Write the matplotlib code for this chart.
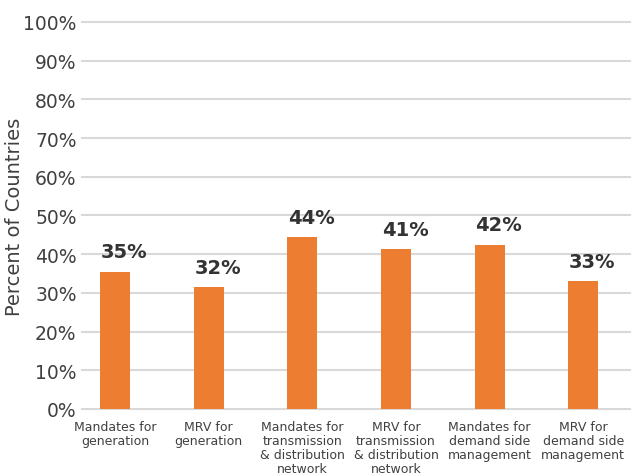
import matplotlib.pyplot as plt
import numpy as np

categorias = ["Mandates for\ngeneration",
              "MRV for\ngeneration",
              "Mandates for\ntransmission\n& distribution\nnetwork",
              "MRV for\ntransmission\n& distribution\nnetwork",
              "Mandates for\ndemand side\nmanagement",
              "MRV for\ndemand side\nmanagement"]
valores = [35.4, 31.5, 44.4, 41.3, 42.4, 33.0]
rotulos = ["35%", "32%", "44%", "41%", "42%", "33%"]
yticks = [0, 10, 20, 30, 40, 50, 60, 70, 80, 90, 100]

laranja = '#ED7D31'
cinza = '#404040'

fig = plt.figure(figsize=(6.32, 4.77), dpi=100)
ax = fig.add_axes([0.13, 0.1405, 0.867, 0.8115])

x = np.arange(len(categorias))
ax.bar(x, valores, width=0.32, color=laranja, zorder=3)

for xi, v, r in zip(x, valores, rotulos):
    ax.annotate(r, (xi, v), xytext=(9, 20), textcoords='offset pixels',
                ha='center', va='center', fontsize=14, fontweight='bold',
                color='#333333')

ax.set_ylim(0, 100)
ax.set_xlim(-0.35, 5.5)
ax.set_yticks(yticks)
ax.set_yticklabels([f"{t}%" for t in yticks], fontsize=13.5, color=cinza)
ax.set_xticks(x)
ax.set_xticklabels(categorias, fontsize=9, color=cinza, linespacing=1.1)
ax.tick_params(length=0, axis='both')
ax.tick_params(axis='x', pad=8)
ax.tick_params(axis='y', pad=4)
ax.grid(axis='y', color='#d9d9d9', linewidth=1.5, zorder=0)
for linha in ax.get_ygridlines():
    linha.set_clip_on(False)
for s in ax.spines.values():
    s.set_visible(False)
ax.set_ylabel("Percent of Countries", fontsize=14, color=cinza, va='center')
ax.yaxis.set_label_coords(-0.124, 0.5)

fig.savefig('out.png', dpi=100)
